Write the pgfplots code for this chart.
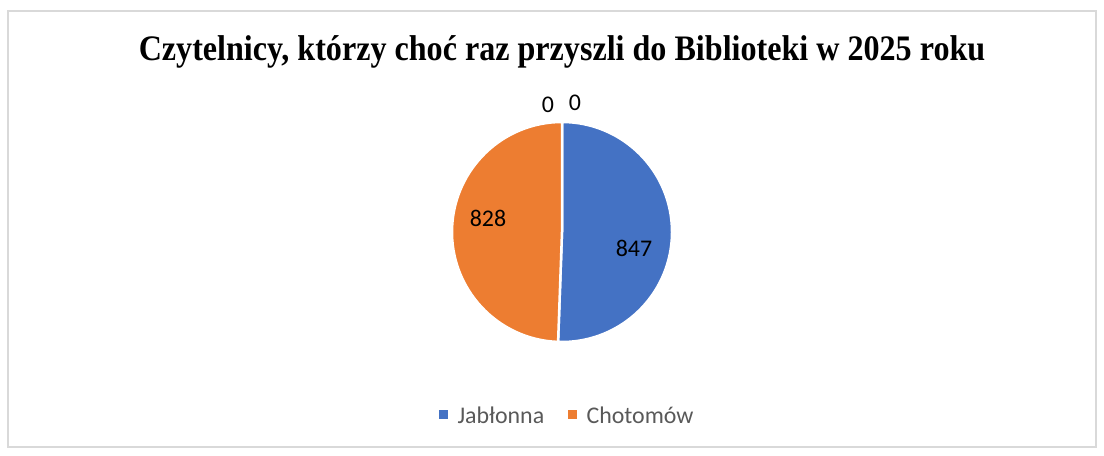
\documentclass[border=0pt]{standalone}
\usepackage{pgfplots}
\pgfplotsset{compat=1.18}
\usepackage{fontspec}
\setmainfont{Liberation Serif}
\newfontfamily\calibri{Carlito}
\definecolor{cBlue}{HTML}{4472C4}
\definecolor{cOrange}{HTML}{ED7D31}
\definecolor{cText}{HTML}{595959}
\definecolor{cFrame}{HTML}{D9D9D9}
% data: Jablonna, Chotomow
\def\vA{847}
\def\vB{828}
\begin{document}
\begin{tikzpicture}
\begin{axis}[
  x=1bp, y=1bp, xmin=0, xmax=1104, ymin=0, ymax=456,
  scale only axis, hide axis, clip=false,
]
\path (axis cs:0,0) rectangle (axis cs:1104,456);
\draw[cFrame, line width=1.2bp] (axis cs:8,9) rectangle (axis cs:1096,445);
\node[font=\bfseries\fontsize{36}{40}\selectfont] at (axis cs:562,404) {\scalebox{0.895}[1]{Czytelnicy, którzy choć raz przyszli do Biblioteki w 2025 roku}};
\pgfmathsetmacro{\tot}{\vA+\vB}
\pgfmathsetmacro{\aA}{360*(\vA/\tot)}
\pgfmathsetmacro{\eA}{90-\aA}
\fill[cBlue, draw=white, line width=2.5bp] (axis cs:562,224) -- ++(90:110bp) arc[start angle=90, end angle=\eA, radius=110bp] -- cycle;
\fill[cOrange, draw=white, line width=2.5bp] (axis cs:562,224) -- ++(\eA:110bp) arc[start angle=\eA, end angle=-270, radius=110bp] -- cycle;
\begin{scope}[font=\calibri\fontsize{24}{28}\selectfont]
\node at (axis cs:634,208) {\vA};
\node at (axis cs:488,238) {\vB};
\node at (axis cs:548,351) {0};
\node at (axis cs:575,353) {0};
\fill[cBlue] (axis cs:439,37) rectangle (axis cs:448,46);
\node[anchor=west, text=cText] at (axis cs:454,41) {Jabłonna};
\fill[cOrange] (axis cs:568,37) rectangle (axis cs:577,46);
\node[anchor=west, text=cText] at (axis cs:583,41) {Chotomów};
\end{scope}
\end{axis}
\end{tikzpicture}
\end{document}
